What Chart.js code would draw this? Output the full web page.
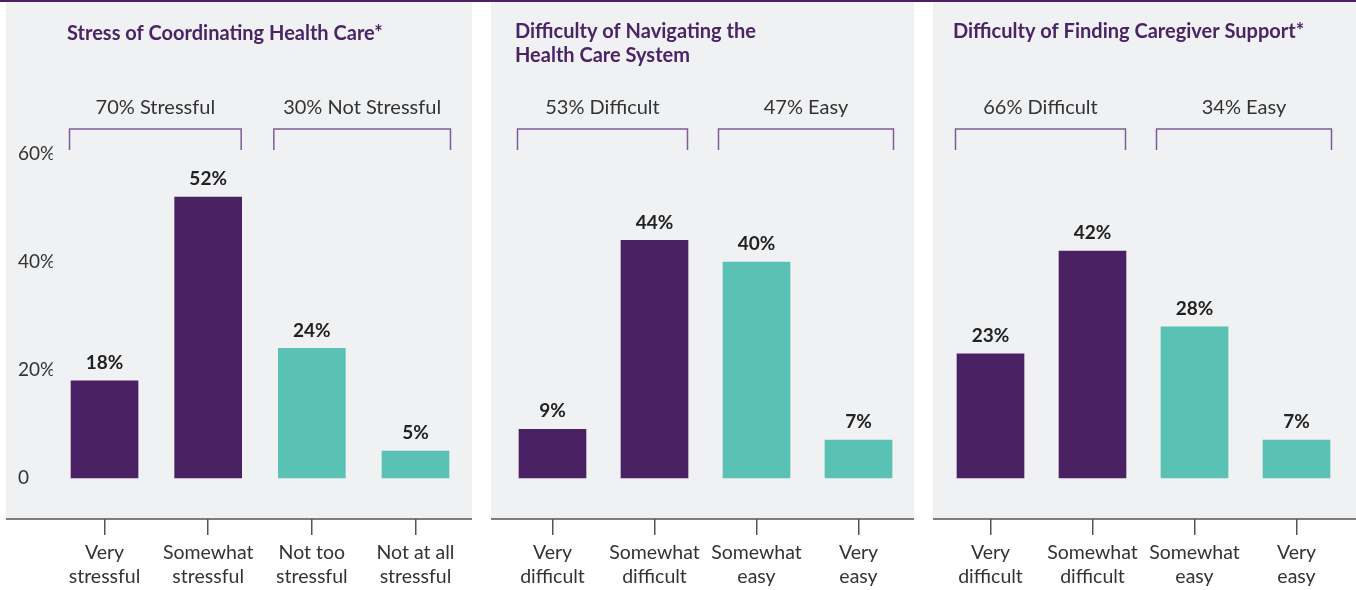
<!DOCTYPE html>
<html>
<head>
<meta charset="utf-8">
<script src="https://cdn.jsdelivr.net/npm/chart.js@4.4.1/dist/chart.umd.min.js"></script>
<style>
  body { margin: 0; width: 1356px; height: 590px; background: #fff; position: relative; overflow: hidden; }
  .topline { position: absolute; left: 0; top: 0; width: 1356px; height: 2px; background: #4a2263; }
  .panel { position: absolute; top: 0; height: 590px; }
</style>
</head>
<body>
<div class="topline"></div>
<div class="panel" style="left:6px;width:466px"><canvas id="chart-1" width="466" height="590"></canvas></div>
<div class="panel" style="left:491px;width:423px"><canvas id="chart-2" width="423" height="590"></canvas></div>
<div class="panel" style="left:933px;width:423px"><canvas id="chart-3" width="423" height="590"></canvas></div>
<script>
// data
const yTicks = [0, 20, 40, 60];

const titles1 = ["Stress of Coordinating Health Care*"];
const categories1 = [["Very", "stressful"], ["Somewhat", "stressful"], ["Not too", "stressful"], ["Not at all", "stressful"]];
const values1 = [18, 52, 24, 5];
const groups1 = ["70% Stressful", "30% Not Stressful"];

const titles2 = ["Difficulty of Navigating the", "Health Care System"];
const categories2 = [["Very", "difficult"], ["Somewhat", "difficult"], ["Somewhat", "easy"], ["Very", "easy"]];
const values2 = [9, 44, 40, 7];
const groups2 = ["53% Difficult", "47% Easy"];

const titles3 = ["Difficulty of Finding Caregiver Support*"];
const categories3 = [["Very", "difficult"], ["Somewhat", "difficult"], ["Somewhat", "easy"], ["Very", "easy"]];
const values3 = [23, 42, 28, 7];
const groups3 = ["66% Difficult", "34% Easy"];

const PURPLE = "#4a2263";
const TEAL = "#59c2b4";
const PANEL_BG = "#f0f1f3";
const TEXT = "#333333";
const FONT = "Lato, 'Open Sans', sans-serif";

const panelPlugin = {
  id: "panel",
  beforeDraw(chart) {
    const ctx = chart.ctx;
    const area = chart.chartArea;
    ctx.save();
    ctx.fillStyle = PANEL_BG;
    ctx.fillRect(0, 2, chart.width, area.bottom - 2);
    ctx.strokeStyle = "#555";
    ctx.lineWidth = 1.5;
    ctx.beginPath();
    ctx.moveTo(0, area.bottom);
    ctx.lineTo(chart.width, area.bottom);
    ctx.stroke();
    ctx.restore();
  },
  afterDatasetsDraw(chart, args, opts) {
    const ctx = chart.ctx;
    const bars = chart.getDatasetMeta(0).data;
    const values = chart.data.datasets[0].data;
    ctx.save();
    // value labels
    ctx.fillStyle = "#222";
    ctx.font = "bold 19px " + FONT;
    ctx.textAlign = "center";
    ctx.textBaseline = "middle";
    bars.forEach((b, i) => ctx.fillText(values[i] + "%", b.x, b.y - 18));
    // title
    ctx.fillStyle = "#4b2466";
    ctx.font = "bold 20px " + FONT;
    ctx.textAlign = "left";
    const left = bars[0].x - bars[0].width / 2 - 4;
    opts.title.forEach((t, i) => ctx.fillText(t, left, opts.titleY + i * 24));
    // group brackets
    ctx.strokeStyle = "#7d5d95";
    ctx.lineWidth = 1.5;
    [[0, 1, -1.5, -0.5], [2, 3, -4.5, 1.5]].forEach((pair, g) => {
      const a = bars[pair[0]], z = bars[pair[1]];
      const x0 = a.x - a.width / 2 + pair[2], x1 = z.x + z.width / 2 + pair[3];
      ctx.beginPath();
      ctx.moveTo(x0, 150);
      ctx.lineTo(x0, 129);
      ctx.lineTo(x1, 129);
      ctx.lineTo(x1, 150);
      ctx.stroke();
      ctx.fillStyle = TEXT;
      ctx.font = "20px " + FONT;
      ctx.textAlign = "center";
      ctx.fillText(opts.groups[g], (x0 + x1) / 2, 108);
    });
    ctx.restore();
  }
};

function makeChart(id, categories, values, title, titleY, groups, pad, showY) {
  return new Chart(document.getElementById(id).getContext("2d"), {
    type: "bar",
    data: {
      labels: categories,
      datasets: [{
        data: values,
        backgroundColor: [PURPLE, PURPLE, TEAL, TEAL],
        barThickness: 67
      }]
    },
    plugins: [panelPlugin],
    options: {
      responsive: false,
      animation: false,
      layout: { padding: { top: 154, left: pad[0], right: pad[1], bottom: 0 } },
      plugins: {
        legend: { display: false },
        tooltip: { enabled: false },
        panel: { title: title, titleY: titleY, groups: groups }
      },
      scales: {
        x: {
          grid: { display: true, drawOnChartArea: false, drawTicks: true, tickLength: 16, offset: false, color: "#555", lineWidth: 1.5 },
          border: { display: false },
          ticks: { color: TEXT, font: { family: FONT, size: 19.5, lineHeight: 1.23 }, padding: 6, maxRotation: 0, autoSkip: false },
          afterFit: (s) => { s.height = 71; }
        },
        y: {
          display: showY,
          min: -7.6,
          max: 60,
          grid: { display: false },
          border: { display: false },
          afterBuildTicks: (s) => { s.ticks = yTicks.map(v => ({ value: v })); },
          afterFit: (s) => { s.width = showY ? 34.7 : 0; },
          ticks: {
            crossAlign: "far",
            color: TEXT,
            font: { family: FONT, size: 19 },
            callback: (v) => v === 0 ? "0" : v + "%"
          }
        }
      }
    }
  });
}

makeChart("chart-1", categories1, values1, titles1, 34, groups1, [12, 4.7], true);
makeChart("chart-2", categories2, values2, titles2, 32, groups2, [10.5, 4.5], false);
makeChart("chart-3", categories3, values3, titles3, 32, groups3, [6.5, 8.5], false);
</script>
</body>
</html>
